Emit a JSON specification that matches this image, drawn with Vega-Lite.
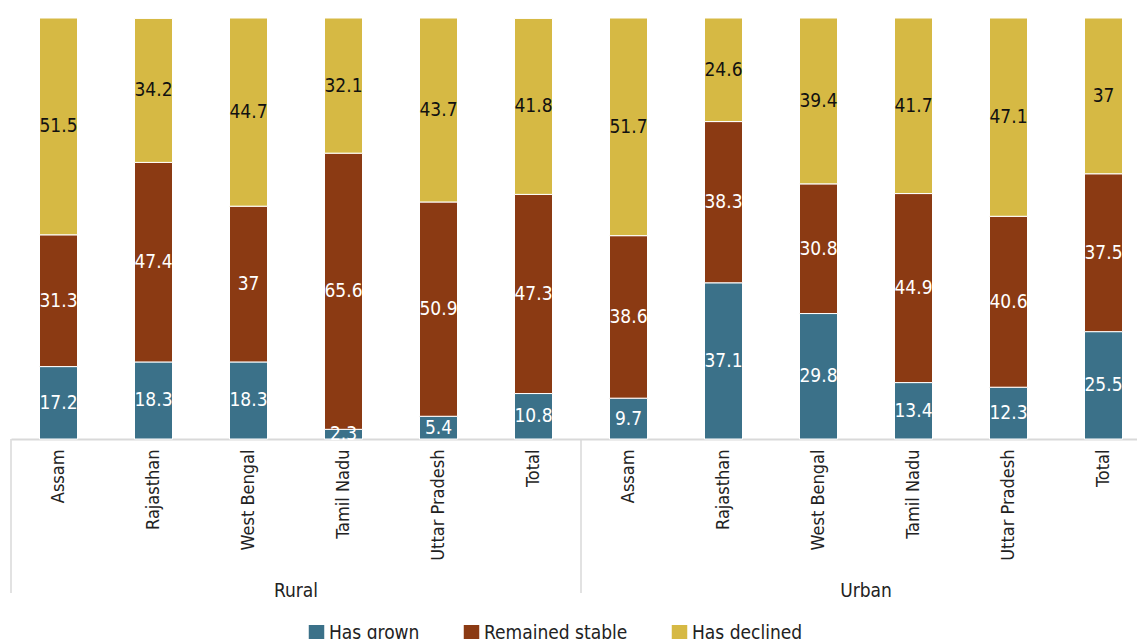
{
  "$schema": "https://vega.github.io/schema/vega-lite/v6.json",
  "background": "white",
  "padding": {"left": 10, "top": 17, "right": 5, "bottom": 5},
  "config": {"view": {"stroke": null}, "font": "DejaVu Sans Condensed, Liberation Sans, sans-serif"},
  "width": 1140,
  "height": 421,
  "data": {"values": [
    {"group": "Rural", "state": "Assam", "type": "Has grown", "value": 17.2},
    {"group": "Rural", "state": "Assam", "type": "Remained stable", "value": 31.3},
    {"group": "Rural", "state": "Assam", "type": "Has declined", "value": 51.5},
    {"group": "Rural", "state": "Rajasthan", "type": "Has grown", "value": 18.3},
    {"group": "Rural", "state": "Rajasthan", "type": "Remained stable", "value": 47.4},
    {"group": "Rural", "state": "Rajasthan", "type": "Has declined", "value": 34.2},
    {"group": "Rural", "state": "West Bengal", "type": "Has grown", "value": 18.3},
    {"group": "Rural", "state": "West Bengal", "type": "Remained stable", "value": 37},
    {"group": "Rural", "state": "West Bengal", "type": "Has declined", "value": 44.7},
    {"group": "Rural", "state": "Tamil Nadu", "type": "Has grown", "value": 2.3},
    {"group": "Rural", "state": "Tamil Nadu", "type": "Remained stable", "value": 65.6},
    {"group": "Rural", "state": "Tamil Nadu", "type": "Has declined", "value": 32.1},
    {"group": "Rural", "state": "Uttar Pradesh", "type": "Has grown", "value": 5.4},
    {"group": "Rural", "state": "Uttar Pradesh", "type": "Remained stable", "value": 50.9},
    {"group": "Rural", "state": "Uttar Pradesh", "type": "Has declined", "value": 43.7},
    {"group": "Rural", "state": "Total", "type": "Has grown", "value": 10.8},
    {"group": "Rural", "state": "Total", "type": "Remained stable", "value": 47.3},
    {"group": "Rural", "state": "Total", "type": "Has declined", "value": 41.8},
    {"group": "Urban", "state": "Assam", "type": "Has grown", "value": 9.7},
    {"group": "Urban", "state": "Assam", "type": "Remained stable", "value": 38.6},
    {"group": "Urban", "state": "Assam", "type": "Has declined", "value": 51.7},
    {"group": "Urban", "state": "Rajasthan", "type": "Has grown", "value": 37.1},
    {"group": "Urban", "state": "Rajasthan", "type": "Remained stable", "value": 38.3},
    {"group": "Urban", "state": "Rajasthan", "type": "Has declined", "value": 24.6},
    {"group": "Urban", "state": "West Bengal", "type": "Has grown", "value": 29.8},
    {"group": "Urban", "state": "West Bengal", "type": "Remained stable", "value": 30.8},
    {"group": "Urban", "state": "West Bengal", "type": "Has declined", "value": 39.4},
    {"group": "Urban", "state": "Tamil Nadu", "type": "Has grown", "value": 13.4},
    {"group": "Urban", "state": "Tamil Nadu", "type": "Remained stable", "value": 44.9},
    {"group": "Urban", "state": "Tamil Nadu", "type": "Has declined", "value": 41.7},
    {"group": "Urban", "state": "Uttar Pradesh", "type": "Has grown", "value": 12.3},
    {"group": "Urban", "state": "Uttar Pradesh", "type": "Remained stable", "value": 40.6},
    {"group": "Urban", "state": "Uttar Pradesh", "type": "Has declined", "value": 47.1},
    {"group": "Urban", "state": "Total", "type": "Has grown", "value": 25.5},
    {"group": "Urban", "state": "Total", "type": "Remained stable", "value": 37.5},
    {"group": "Urban", "state": "Total", "type": "Has declined", "value": 37}
  ]},
  "transform": [
    {"calculate": "datum.group + '|' + datum.state", "as": "key"},
    {"calculate": "indexof(['Has grown','Remained stable','Has declined'], datum.type)", "as": "rank"},
    {"stack": "value", "groupby": ["key"], "sort": [{"field": "rank", "order": "ascending"}], "as": ["y0", "y1"]},
    {"calculate": "(datum.y0 + datum.y1) / 2", "as": "ymid"}
  ],
  "encoding": {
    "x": {
      "field": "key", "type": "nominal", "sort": null,
      "scale": {"paddingInner": 0, "paddingOuter": 0},
      "axis": {"title": null, "labelExpr": "split(datum.label, '|')[1]", "labelAngle": -90, "labelFontSize": 18, "labelColor": "#222", "labelPadding": 10, "ticks": false, "domainColor": "#d9d9d9", "domainWidth": 2}
    }
  },
  "layer": [
    {
      "mark": {"type": "bar", "width": {"band": 0.4}, "stroke": "white", "strokeWidth": 1},
      "encoding": {
        "y": {"field": "y0", "type": "quantitative", "scale": {"domain": [0, 100]}, "axis": null},
        "y2": {"field": "y1"},
        "color": {
          "field": "type", "type": "nominal",
          "scale": {"domain": ["Has grown", "Remained stable", "Has declined"], "range": ["#3B7189", "#8B3A13", "#D6B944"]},
          "legend": {"title": null, "orient": "none", "legendX": 296, "legendY": 605, "direction": "horizontal", "symbolType": "square", "symbolSize": 240, "symbolStrokeWidth": 0, "labelFontSize": 19, "labelColor": "#222", "labelOffset": 3, "columnPadding": 42}
        }
      }
    },
    {
      "mark": {"type": "text", "fontSize": 19, "baseline": "middle", "align": "center"},
      "encoding": {
        "y": {"field": "ymid", "type": "quantitative"},
        "text": {"field": "value", "type": "nominal"},
        "color": {"condition": {"test": "datum.type === 'Has declined'", "value": "#111111"}, "value": "white"}
      }
    },
    {
      "transform": [{"filter": "datum.state === 'Assam' && datum.type === 'Has grown'"}],
      "mark": {"type": "rule", "color": "#d9d9d9", "strokeWidth": 1.5, "y2Offset": 154},
      "encoding": {
        "x": {"field": "key", "type": "nominal", "sort": null, "bandPosition": 0},
        "y": {"datum": 0},
        "y2": {"datum": 0}
      }
    },
    {
      "transform": [{"filter": "datum.state === 'Tamil Nadu' && datum.type === 'Has grown'"}],
      "mark": {"type": "text", "fontSize": 19, "color": "#222", "baseline": "middle", "align": "center", "dy": 152},
      "encoding": {
        "x": {"field": "key", "type": "nominal", "sort": null, "bandPosition": 0},
        "y": {"datum": 0},
        "text": {"field": "group"}
      }
    }
  ]
}
